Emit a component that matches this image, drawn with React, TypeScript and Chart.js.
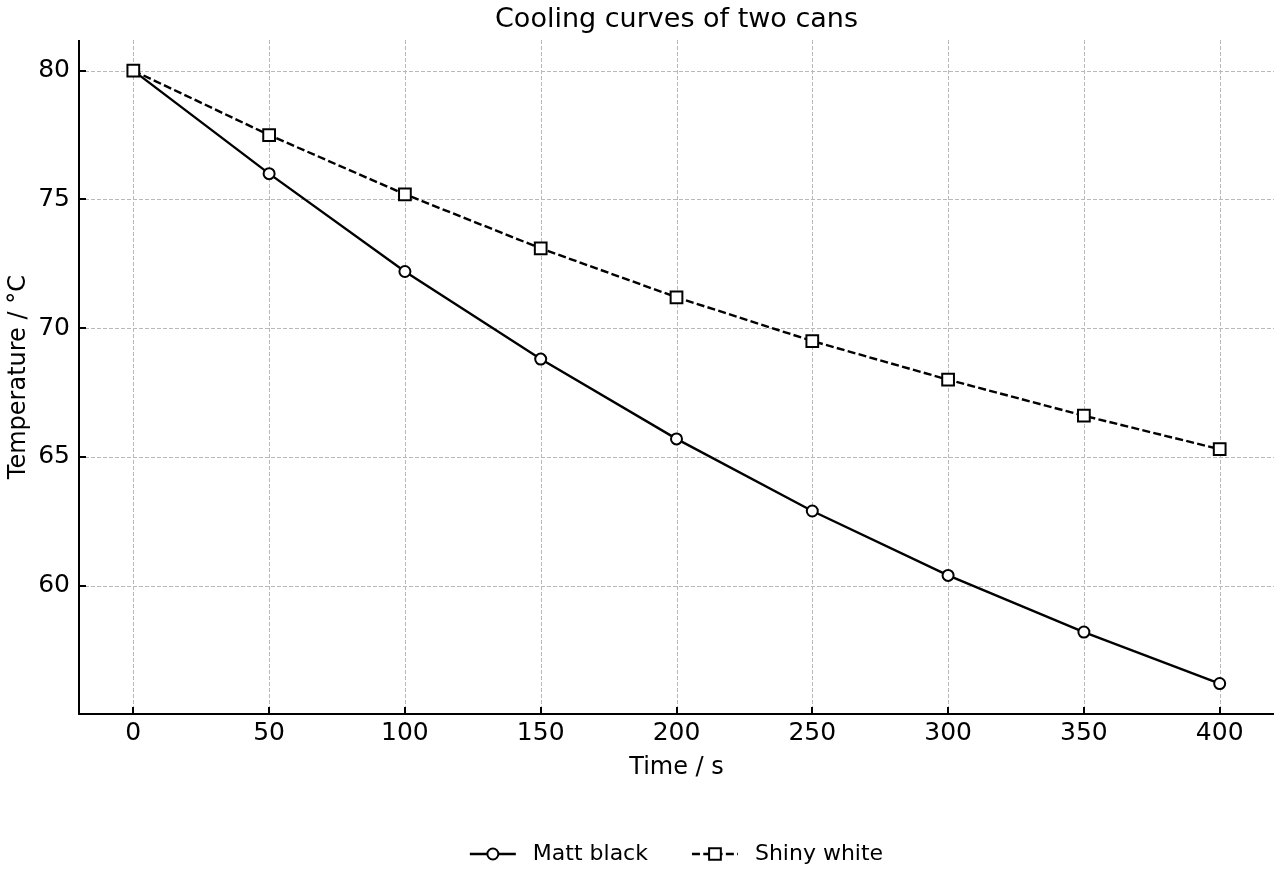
import React, { useEffect, useRef } from "react";
import { Chart, registerables } from "chart.js";

Chart.register(...registerables);

const titleText = "Cooling curves of two cans";
const xLabel = "Time / s";
const yLabel = "Temperature / °C";
const seriesNames = ["Matt black", "Shiny white"];
const times = [0, 50, 100, 150, 200, 250, 300, 350, 400];
const mattBlack = [80, 76.0, 72.2, 68.8, 65.7, 62.9, 60.4, 58.2, 56.2];
const shinyWhite = [80, 77.5, 75.2, 73.1, 71.2, 69.5, 68.0, 66.6, 65.3];
const xTicks = [0, 50, 100, 150, 200, 250, 300, 350, 400];
const yTicks = [60, 65, 70, 75, 80];

const FONT = '"DejaVu Sans", sans-serif';
const LINE_DASH = [8, 3.3];

const mplPlugin = {
  id: "mplAxes",
  beforeDatasetsDraw(chart: any) {
    const { ctx, chartArea: a, scales } = chart;
    const x = scales.x;
    const y = scales.y;
    ctx.save();
    ctx.strokeStyle = "#b9b9b9";
    ctx.lineWidth = 1;
    ctx.setLineDash([4, 2]);
    for (const v of xTicks) {
      const px = Math.round(x.getPixelForValue(v)) + 0.5;
      ctx.beginPath();
      ctx.moveTo(px, a.top);
      ctx.lineTo(px, a.bottom);
      ctx.stroke();
    }
    for (const v of yTicks) {
      const py = Math.round(y.getPixelForValue(v)) + 0.5;
      ctx.beginPath();
      ctx.moveTo(a.left, py);
      ctx.lineTo(a.right, py);
      ctx.stroke();
    }
    ctx.restore();
  },
  afterDatasetsDraw(chart: any) {
    const { ctx, chartArea: a, scales } = chart;
    const x = scales.x;
    const y = scales.y;
    ctx.save();
    ctx.strokeStyle = "#000";
    ctx.lineWidth = 2;
    ctx.setLineDash([]);
    const L = Math.round(a.left);
    const B = Math.round(a.bottom);
    ctx.beginPath();
    ctx.moveTo(L, Math.round(a.top));
    ctx.lineTo(L, B + 1);
    ctx.moveTo(L - 1, B);
    ctx.lineTo(Math.round(a.right), B);
    ctx.stroke();
    for (const v of xTicks) {
      const px = Math.round(x.getPixelForValue(v));
      ctx.beginPath();
      ctx.moveTo(px, B);
      ctx.lineTo(px, B - 7);
      ctx.stroke();
    }
    for (const v of yTicks) {
      const py = Math.round(y.getPixelForValue(v));
      ctx.beginPath();
      ctx.moveTo(L, py);
      ctx.lineTo(L + 7, py);
      ctx.stroke();
    }
    ctx.restore();
  },
  afterDraw(chart: any) {
    const { ctx, chartArea: a } = chart;
    const ds = chart.data.datasets;
    ctx.save();
    ctx.fillStyle = "#000";
    ctx.font = "27px " + FONT;
    ctx.textAlign = "center";
    ctx.textBaseline = "middle";
    ctx.fillText(titleText, (a.left + a.right) / 2, 20);

    ctx.font = "22px " + FONT;
    const handleLen = 46;
    const textPad = 17;
    const colSpace = 44;
    const widths = ds.map((d: any) => ctx.measureText(d.label).width);
    let total = 0;
    widths.forEach((w: number, i: number) => {
      total += handleLen + textPad + w + (i < widths.length - 1 ? colSpace : 0);
    });
    let cx = (a.left + a.right) / 2 - total / 2;
    const cy = 854;
    ds.forEach((d: any, i: number) => {
      ctx.strokeStyle = "#000";
      ctx.lineWidth = d.borderWidth;
      ctx.setLineDash(d.borderDash || []);
      ctx.beginPath();
      ctx.moveTo(cx, cy);
      ctx.lineTo(cx + handleLen, cy);
      ctx.stroke();
      ctx.setLineDash([]);
      ctx.lineWidth = d.pointBorderWidth;
      const mx = cx + handleLen / 2;
      ctx.fillStyle = "#fff";
      ctx.beginPath();
      if (d.pointStyle === "rect") {
        const s = d.pointRadius * Math.SQRT1_2;
        ctx.rect(mx - s, cy - s, 2 * s, 2 * s);
      } else {
        ctx.arc(mx, cy, d.pointRadius, 0, Math.PI * 2);
      }
      ctx.fill();
      ctx.stroke();
      ctx.fillStyle = "#000";
      ctx.textAlign = "left";
      ctx.textBaseline = "middle";
      ctx.fillText(d.label, cx + handleLen + textPad, cy);
      cx += handleLen + textPad + widths[i] + colSpace;
    });
    ctx.restore();
  },
};

export default function App() {
  const ref = useRef<HTMLCanvasElement>(null);
  useEffect(() => {
    if (!ref.current) return;
    const chart = new Chart(ref.current, {
      type: "line",
      data: {
        datasets: [
          {
            label: seriesNames[0],
            data: times.map((t, i) => ({ x: t, y: mattBlack[i] })),
            borderColor: "#000",
            borderWidth: 2.4,
            pointStyle: "circle",
            pointRadius: 5.5,
            pointBorderWidth: 2,
            pointBackgroundColor: "#fff",
            pointBorderColor: "#000",
            tension: 0,
            order: 1,
          },
          {
            label: seriesNames[1],
            data: times.map((t, i) => ({ x: t, y: shinyWhite[i] })),
            borderColor: "#000",
            borderWidth: 2.4,
            borderDash: LINE_DASH,
            pointStyle: "rect",
            pointRadius: 8.3,
            pointBorderWidth: 2,
            pointBackgroundColor: "#fff",
            pointBorderColor: "#000",
            tension: 0,
            order: 0,
          },
        ],
      } as any,
      options: {
        animation: false,
        responsive: false,
        devicePixelRatio: 1,
        layout: { autoPadding: false, padding: { left: 0, right: 6, top: 40, bottom: 96 } },
        plugins: {
          legend: { display: false },
          tooltip: { enabled: false },
          title: { display: false },
        },
        scales: {
          x: {
            type: "linear",
            min: -20,
            max: 420,
            afterBuildTicks: (s: any) => {
              s.ticks = xTicks.map((v) => ({ value: v }));
            },
            grid: { display: false, drawTicks: false },
            border: { display: false },
            ticks: {
              color: "#000",
              font: { family: FONT, size: 25 },
              padding: 4,
              maxRotation: 0,
              autoSkip: false,
            },
            title: {
              display: true,
              text: xLabel,
              color: "#000",
              font: { family: FONT, size: 24 },
              padding: { top: 1, bottom: 2 },
            },
          },
          y: {
            type: "linear",
            min: 55.01,
            max: 81.19,
            afterBuildTicks: (s: any) => {
              s.ticks = yTicks.map((v) => ({ value: v }));
            },
            afterFit: (s: any) => {
              s.width = 79;
            },
            grid: { display: false, drawTicks: false },
            border: { display: false },
            ticks: {
              color: "#000",
              font: { family: FONT, size: 25 },
              padding: 9,
              autoSkip: false,
            },
            title: {
              display: true,
              text: yLabel,
              color: "#000",
              font: { family: FONT, size: 24 },
              padding: { top: 4, bottom: 4 },
            },
          },
        },
      } as any,
      plugins: [mplPlugin],
    });
    return () => chart.destroy();
  }, []);
  return (
    <div style={{ position: "absolute", left: 0, top: 0, width: 1280, height: 880 }}>
      <canvas ref={ref} width={1280} height={880} style={{ display: "block" }} />
    </div>
  );
}
